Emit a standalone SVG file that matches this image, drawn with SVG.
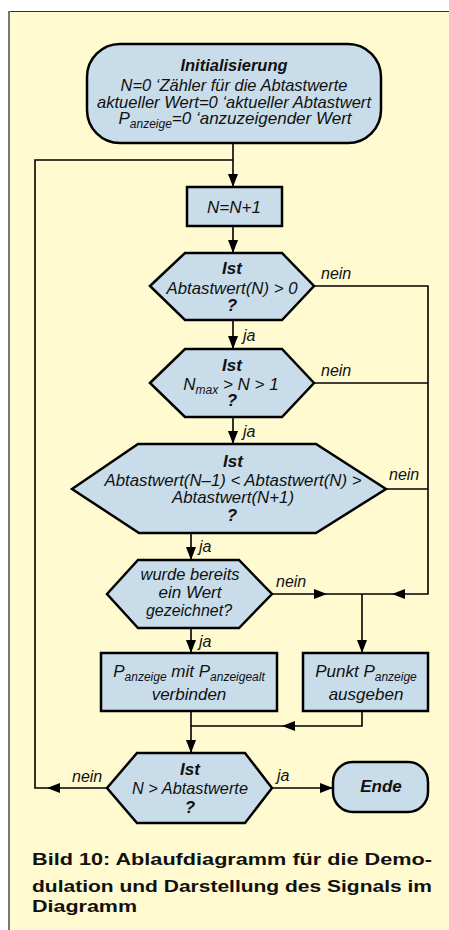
<svg xmlns="http://www.w3.org/2000/svg" width="449" height="930" viewBox="0 0 449 930">
<defs>
<marker id="ah" markerUnits="userSpaceOnUse" markerWidth="14" markerHeight="12" refX="13" refY="5" orient="auto">
<path d="M0,0 L13,5 L0,10 Z" fill="#000"/>
</marker>
<style>
.node{fill:#c9dcea;stroke:#000;stroke-width:2.5}
.con{fill:none;stroke:#000;stroke-width:1.6}
.t{font-family:"Liberation Sans",Arial,sans-serif;font-style:italic;font-size:17px;fill:#111;text-anchor:middle}
.b{font-weight:bold}
.sub{font-size:12px}
.lbl{font-family:"Liberation Sans",Arial,sans-serif;font-style:italic;font-size:16px;fill:#111}
.cap{font-family:"Liberation Sans",Arial,sans-serif;font-weight:bold;font-size:17px;fill:#111}
</style>
</defs>
<rect x="8" y="11" width="441" height="919" fill="#fffacf"/>
<line x1="8" y1="11.5" x2="449" y2="11.5" stroke="#333" stroke-width="1.2"/>
<line x1="9" y1="11" x2="9" y2="930" stroke="#777" stroke-width="2"/>

<g id="connectors">
<path class="con" d="M233,143 V187" marker-end="url(#ah)"/>
<path class="con" d="M107,788 H35 V160 H233"/>
<path class="con" d="M233,226 V253" marker-end="url(#ah)"/>
<path class="con" d="M233,320 V349" marker-end="url(#ah)"/>
<path class="con" d="M233,417 V444" marker-end="url(#ah)"/>
<path class="con" d="M191,533 V560" marker-end="url(#ah)"/>
<path class="con" d="M191,628 V653" marker-end="url(#ah)"/>
<path class="con" d="M314,286 H428 V594 H362"/>
<path class="con" d="M314,383 H428"/>
<path class="con" d="M386,489 H428"/>
<path class="con" d="M272,594 H362"/>
<path class="con" d="M362,594 V653" marker-end="url(#ah)"/>
<path class="con" d="M362,711 V726 H191"/>
<path class="con" d="M191,711 V753" marker-end="url(#ah)"/>
<path class="con" d="M272,788 H333" marker-end="url(#ah)"/>
<path d="M314,589 L327,594 L314,599 Z" fill="#000"/>
<path d="M405,589 L392,594 L405,599 Z" fill="#000"/>
<path d="M295,721 L282,726 L295,731 Z" fill="#000"/>
<path d="M60,783 L47,788 L60,793 Z" fill="#000"/>
<text class="lbl" x="321" y="279">nein</text>
<text class="lbl" x="321" y="376">nein</text>
<text class="lbl" x="389" y="480">nein</text>
<text class="lbl" x="276" y="587">nein</text>
<text class="lbl" x="72" y="782">nein</text>
<text class="lbl" x="243" y="341">ja</text>
<text class="lbl" x="243" y="437">ja</text>
<text class="lbl" x="199" y="552">ja</text>
<text class="lbl" x="199" y="647">ja</text>
<text class="lbl" x="277" y="781">ja</text>
</g>

<g id="init">
<rect class="node" x="87" y="44" width="294" height="99" rx="33"/>
<text class="t b" x="234" y="71" textLength="107" lengthAdjust="spacingAndGlyphs">Initialisierung</text>
<text class="t" x="234" y="91" textLength="227" lengthAdjust="spacingAndGlyphs">N=0 ‘Zähler für die Abtastwerte</text>
<text class="t" x="234" y="108" textLength="274" lengthAdjust="spacingAndGlyphs">aktueller Wert=0 ‘aktueller Abtastwert</text>
<text class="t" x="235" y="124">P<tspan class="sub" dy="4">anzeige</tspan><tspan dy="-4">=0 ‘anzuzeigender Wert</tspan></text>
</g>

<g id="inc">
<rect class="node" x="187" y="187" width="95" height="39"/>
<text class="t" x="234" y="213">N=N+1</text>
</g>

<g id="dec1">
<polygon class="node" points="150,286 185,253 282,253 314,286 282,320 185,320"/>
<text class="t b" x="232" y="274">Ist</text>
<text class="t" x="232" y="294" textLength="131" lengthAdjust="spacingAndGlyphs">Abtastwert(N) &gt; 0</text>
<text class="t b" x="232" y="311">?</text>
</g>

<g id="dec2">
<polygon class="node" points="150,383 185,349 282,349 314,383 282,417 185,417"/>
<text class="t b" x="232" y="371">Ist</text>
<text class="t" x="231" y="390">N<tspan class="sub" dy="4">max</tspan><tspan dy="-4"> &gt; N &gt; 1</tspan></text>
<text class="t b" x="232" y="406">?</text>
</g>

<g id="dec3">
<polygon class="node" points="72,489 138,444 316,444 386,489 316,533 139,533"/>
<text class="t b" x="233" y="467">Ist</text>
<text class="t" x="233" y="486" textLength="257" lengthAdjust="spacingAndGlyphs">Abtastwert(N–1) &lt; Abtastwert(N) &gt;</text>
<text class="t" x="233" y="503" textLength="122" lengthAdjust="spacingAndGlyphs">Abtastwert(N+1)</text>
<text class="t b" x="232" y="521">?</text>
</g>

<g id="dec4">
<polygon class="node" points="107,594 138,560 239,560 272,594 239,628 138,628"/>
<text class="t" x="190" y="580" textLength="99" lengthAdjust="spacingAndGlyphs">wurde bereits</text>
<text class="t" x="190" y="598">ein Wert</text>
<text class="t" x="189" y="616" textLength="86" lengthAdjust="spacingAndGlyphs">gezeichnet?</text>
</g>

<g id="connect">
<rect class="node" x="101" y="653" width="176" height="58"/>
<text class="t" x="189" y="677">P<tspan class="sub" dy="4">anzeige</tspan><tspan dy="-4"> mit P</tspan><tspan class="sub" dy="4">anzeigealt</tspan></text>
<text class="t" x="189" y="700">verbinden</text>
</g>

<g id="point">
<rect class="node" x="303" y="653" width="125" height="58"/>
<text class="t" x="366" y="677">Punkt P<tspan class="sub" dy="4">anzeige</tspan></text>
<text class="t" x="366" y="700">ausgeben</text>
</g>

<g id="dec5">
<polygon class="node" points="107,788 137,753 245,753 272,788 245,823 137,823"/>
<text class="t b" x="190" y="775">Ist</text>
<text class="t" x="190" y="794" textLength="116" lengthAdjust="spacingAndGlyphs">N &gt; Abtastwerte</text>
<text class="t b" x="190" y="813">?</text>
</g>

<g id="end">
<rect class="node" x="333" y="762" width="95" height="50" rx="20"/>
<text class="t b" x="381" y="792">Ende</text>
</g>

<g id="caption">
<text class="cap" x="32" y="865" textLength="400" lengthAdjust="spacingAndGlyphs">Bild 10: Ablaufdiagramm für die Demo-</text>
<text class="cap" x="32" y="892" textLength="400" lengthAdjust="spacingAndGlyphs">dulation und Darstellung des Signals im</text>
<text class="cap" x="32" y="912" textLength="105" lengthAdjust="spacingAndGlyphs">Diagramm</text>
</g>
</svg>
